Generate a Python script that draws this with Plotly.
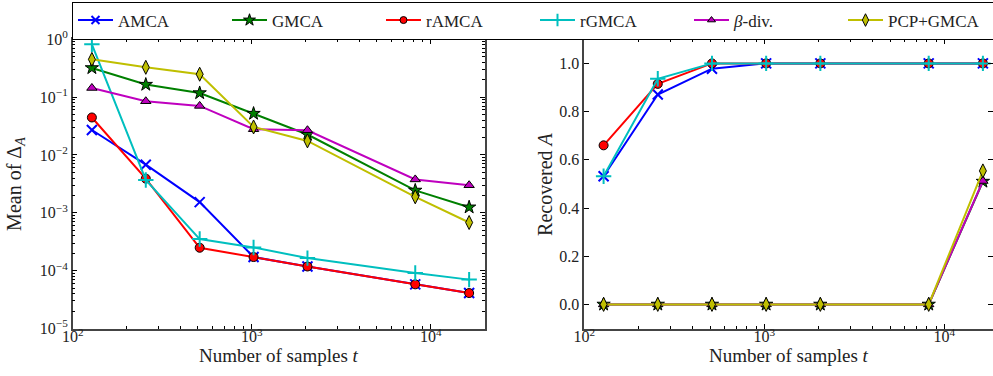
import plotly.graph_objects as go

samples = [128, 256, 512, 1024, 2048, 8192, 16384]

delta_amca = [0.027, 0.0068, 0.00153, 0.000172, 0.000118, 0.000058, 0.000041]
delta_gmca = [0.32, 0.165, 0.118, 0.052, 0.0226, 0.00244, 0.00125]
delta_ramca = [0.0445, 0.0039, 0.000249, 0.000172, 0.000118, 0.000058, 0.000041]
delta_rgmca = [0.82, 0.0037, 0.000352, 0.000252, 0.000165, 0.000091, 0.00007]
delta_beta = [0.144, 0.085, 0.0705, 0.0279, 0.0268, 0.00378, 0.003]
delta_pcp = [0.45, 0.328, 0.249, 0.0305, 0.0175, 0.00189, 0.00068]

rec_amca = [0.532, 0.871, 0.978, 1.0, 1.0, 1.0, 1.0]
rec_gmca = [0.0, 0.0, 0.0, 0.0, 0.0, 0.0, 0.51]
rec_ramca = [0.66, 0.915, 1.0, 1.0, 1.0, 1.0, 1.0]
rec_rgmca = [0.532, 0.936, 1.0, 1.0, 1.0, 1.0, 1.0]
rec_beta = [0.0, 0.0, 0.0, 0.0, 0.0, 0.0, 0.512]
rec_pcp = [0.0, 0.0, 0.0, 0.0, 0.0, 0.0, 0.554]

x_tickvals = [100, 1000, 10000]
x_ticktext = ["10<sup>2</sup>", "10<sup>3</sup>", "10<sup>4</sup>"]
y_tickvals = [1e-5, 1e-4, 1e-3, 1e-2, 1e-1, 1e0]
y_ticktext = ["10<sup>−5</sup>", "10<sup>−4</sup>", "10<sup>−3</sup>", "10<sup>−2</sup>",
              "10<sup>−1</sup>", "10<sup>0</sup>"]

names = ["AMCA", "GMCA", "rAMCA", "rGMCA", "<i>β</i>-div.", "PCP+GMCA"]
colors = ["#0000ff", "#008000", "#ff0000", "#00bfbf", "#bf00bf", "#bfbf00"]
symbols = ["x-thin", "star", "circle", "cross-thin", "triangle-up", "diamond-tall"]
sizes = [10, 10, 9, 11, 9, 10]
leg_sizes = [8, 9, 7, 9, 7, 9]
left_data = [delta_amca, delta_gmca, delta_ramca, delta_rgmca, delta_beta, delta_pcp]
right_data = [rec_amca, rec_gmca, rec_ramca, rec_rgmca, rec_beta, rec_pcp]

FONT = "Liberation Serif"
TXT = "#222222"


def marker(i, size):
    thin = symbols[i].endswith("thin")
    return dict(symbol=symbols[i], size=size, color=colors[i],
                line=dict(color=colors[i] if thin else "black", width=2 if thin else 1))


fig = go.Figure()
for i in range(6):
    fig.add_trace(go.Scatter(x=samples, y=left_data[i], mode="lines+markers", name=names[i],
                             line=dict(color=colors[i], width=2), marker=marker(i, sizes[i]),
                             xaxis="x", yaxis="y", showlegend=False))
for i in range(6):
    fig.add_trace(go.Scatter(x=samples, y=right_data[i], mode="lines+markers", name=names[i],
                             line=dict(color=colors[i], width=2), marker=marker(i, sizes[i]),
                             xaxis="x2", yaxis="y2", showlegend=False))
# legend entries (no data)
for i in range(6):
    fig.add_trace(go.Scatter(x=[None], y=[None], mode="lines+markers", name=names[i],
                             line=dict(color=colors[i], width=2), marker=marker(i, leg_sizes[i]),
                             xaxis="x", yaxis="y", showlegend=True))

W, H = 993, 376
ax_common = dict(showgrid=False, zeroline=False, showline=True, linecolor="#444444", linewidth=1.5,
                 mirror="allticks", ticks="inside", ticklen=5, tickcolor="black", tickwidth=1,
                 tickfont=dict(family=FONT, size=16, color=TXT), automargin=False)
minor_log = dict(ticks="inside", ticklen=3, dtick="D1", tickcolor="black", tickwidth=1, showgrid=False)

ydom = [(H - 328.5) / H, (H - 39.3) / H]

fig.update_layout(
    width=W, height=H, margin=dict(l=0, r=0, t=0, b=0, autoexpand=False),
    plot_bgcolor="white", paper_bgcolor="white",
    font=dict(family=FONT, color=TXT),
    xaxis=dict(type="log", range=[2, 4.303], domain=[72.7 / W, 485 / W], anchor="y",
               tickmode="array", tickvals=x_tickvals, ticktext=x_ticktext, minor=minor_log,
               ticklabelstandoff=-7, **ax_common),
    yaxis=dict(type="log", range=[-5, 0], domain=ydom, anchor="x",
               tickmode="array", tickvals=y_tickvals, ticktext=y_ticktext, minor=minor_log, **ax_common),
    xaxis2=dict(type="log", range=[2, 2 + (W - 584.3) / 180], domain=[584.3 / W, 1.0], anchor="y2",
                tickmode="array", tickvals=x_tickvals, ticktext=x_ticktext, minor=minor_log,
                ticklabelstandoff=-7, **ax_common),
    yaxis2=dict(range=[-0.1, 1.1], domain=ydom, anchor="x2", tick0=0, dtick=0.2,
                tickformat=".1f", **ax_common),
    legend=dict(orientation="h", x=72 / W, y=1 - 1.5 / H, xanchor="left", yanchor="top",
                bordercolor="black", borderwidth=1, bgcolor="white",
                font=dict(family=FONT, size=17, color=TXT),
                entrywidth=104, entrywidthmode="pixels", itemwidth=35),
    annotations=[
        dict(text="Number of samples <i>t</i>", x=278.9 / W, y=1 - 355.5 / H, xref="paper", yref="paper",
             showarrow=False, xanchor="center", yanchor="middle", font=dict(size=19)),
        dict(text="Number of samples <i>t</i>", x=789 / W, y=1 - 355.5 / H, xref="paper", yref="paper",
             showarrow=False, xanchor="center", yanchor="middle", font=dict(size=19)),
        dict(text="Mean of Δ<sub><i>A</i></sub>", x=16 / W, y=1 - 183.9 / H, xref="paper", yref="paper",
             showarrow=False, xanchor="center", yanchor="middle", textangle=-90, font=dict(size=20)),
        dict(text="Recovered <i>A</i>", x=545 / W, y=1 - 183.9 / H, xref="paper", yref="paper",
             showarrow=False, xanchor="center", yanchor="middle", textangle=-90, font=dict(size=20)),
    ],
)

fig.write_html("out.html", config={"displayModeBar": False},
               post_script="document.body.style.margin='0px';")
